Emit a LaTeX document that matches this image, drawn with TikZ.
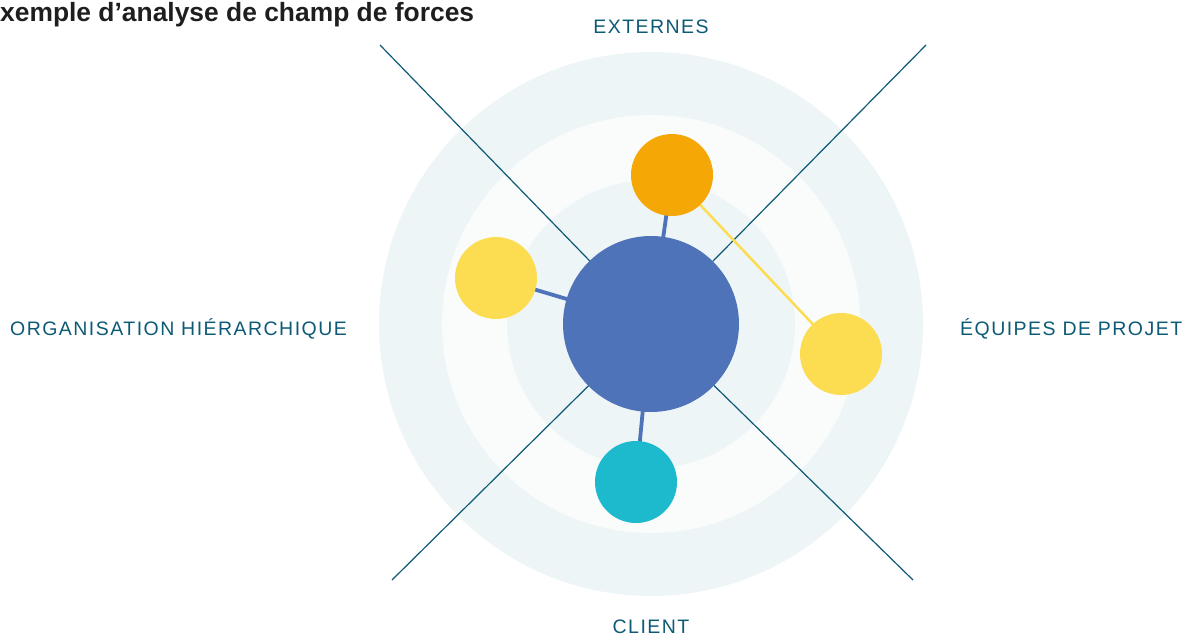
\documentclass[tikz,border=0pt]{standalone}
\usepackage{fontspec}
\setmainfont{Liberation Sans}
\newfontfamily\labfont[LetterSpace=7.5]{Liberation Sans}
\usetikzlibrary{backgrounds}
\pgfdeclarelayer{links}
\pgfsetlayers{background,links,main}
\definecolor{ringA}{HTML}{EEF5F7}
\definecolor{ringB}{HTML}{FAFCFC}
\definecolor{hubblue}{HTML}{4F73B8}
\definecolor{orangeC}{HTML}{F5A706}
\definecolor{yellowC}{HTML}{FCDD52}
\definecolor{tealC}{HTML}{1DB9CC}
\definecolor{axiscol}{HTML}{0D5A76}
\definecolor{titlecol}{HTML}{1E1E1E}
\begin{document}
\begin{tikzpicture}[x=1pt,y=-1pt,
  ball/.style={circle,inner sep=0pt,minimum size=82pt,fill=#1},
  axis/.style={draw=axiscol,line width=1.2pt},
  bluelink/.style={draw=hubblue,line width=3.8pt},
  yellink/.style={draw=yellowC,line width=2.5pt},
  lab/.style={text=axiscol,font=\labfont\fontsize{19.5}{23}\selectfont,inner sep=0pt}]
\useasboundingbox (0,0) rectangle (1185,637);
\coordinate (c) at (651,324);
\begin{pgfonlayer}{background}
\fill[ringA] (c) circle[radius=272];
\fill[ringB] (c) circle[radius=209];
\fill[ringA] (c) circle[radius=144];
\end{pgfonlayer}
\coordinate (tl) at (380,45);
\coordinate (tr) at (926,45);
\coordinate (bl) at (392,580);
\coordinate (br) at (913,580);
\node[circle,inner sep=0pt,minimum size=176pt,fill=hubblue] (hub) at (c) {};
\node[ball=orangeC] (ext) at (672,175) {};
\node[ball=yellowC] (org) at (496,278) {};
\node[ball=yellowC] (equ) at (841,354) {};
\node[ball=tealC] (cli) at (636,482) {};
\begin{pgfonlayer}{links}
\draw[axis] (tl) -- (hub.center);
\draw[axis] (tr) -- (hub.center);
\draw[axis] (bl) -- (hub.center);
\draw[axis] (br) -- (hub.center);
\draw[bluelink] (ext.center) -- (hub.center);
\draw[bluelink] (org.center) -- (hub.center);
\draw[bluelink] (cli.center) -- (hub.center);
\draw[yellink] (ext.center) -- (equ.center);
\end{pgfonlayer}
\node[anchor=base west,inner sep=0pt,text=titlecol,font=\bfseries\fontsize{26.4}{30}\selectfont] (title) at (0,21.5) {xemple d’analyse de champ de forces};
\node[lab,anchor=base] (lext) at (651,33) {EXTERNES};
\node[lab,anchor=base west] (lorg) at (10,335) {ORGANISATION HIÉRARCHIQUE};
\node[lab,anchor=base west] (lequ) at (960,335) {ÉQUIPES DE PROJET};
\node[lab,anchor=base] (lcli) at (651,633) {CLIENT};
\end{tikzpicture}
\end{document}
